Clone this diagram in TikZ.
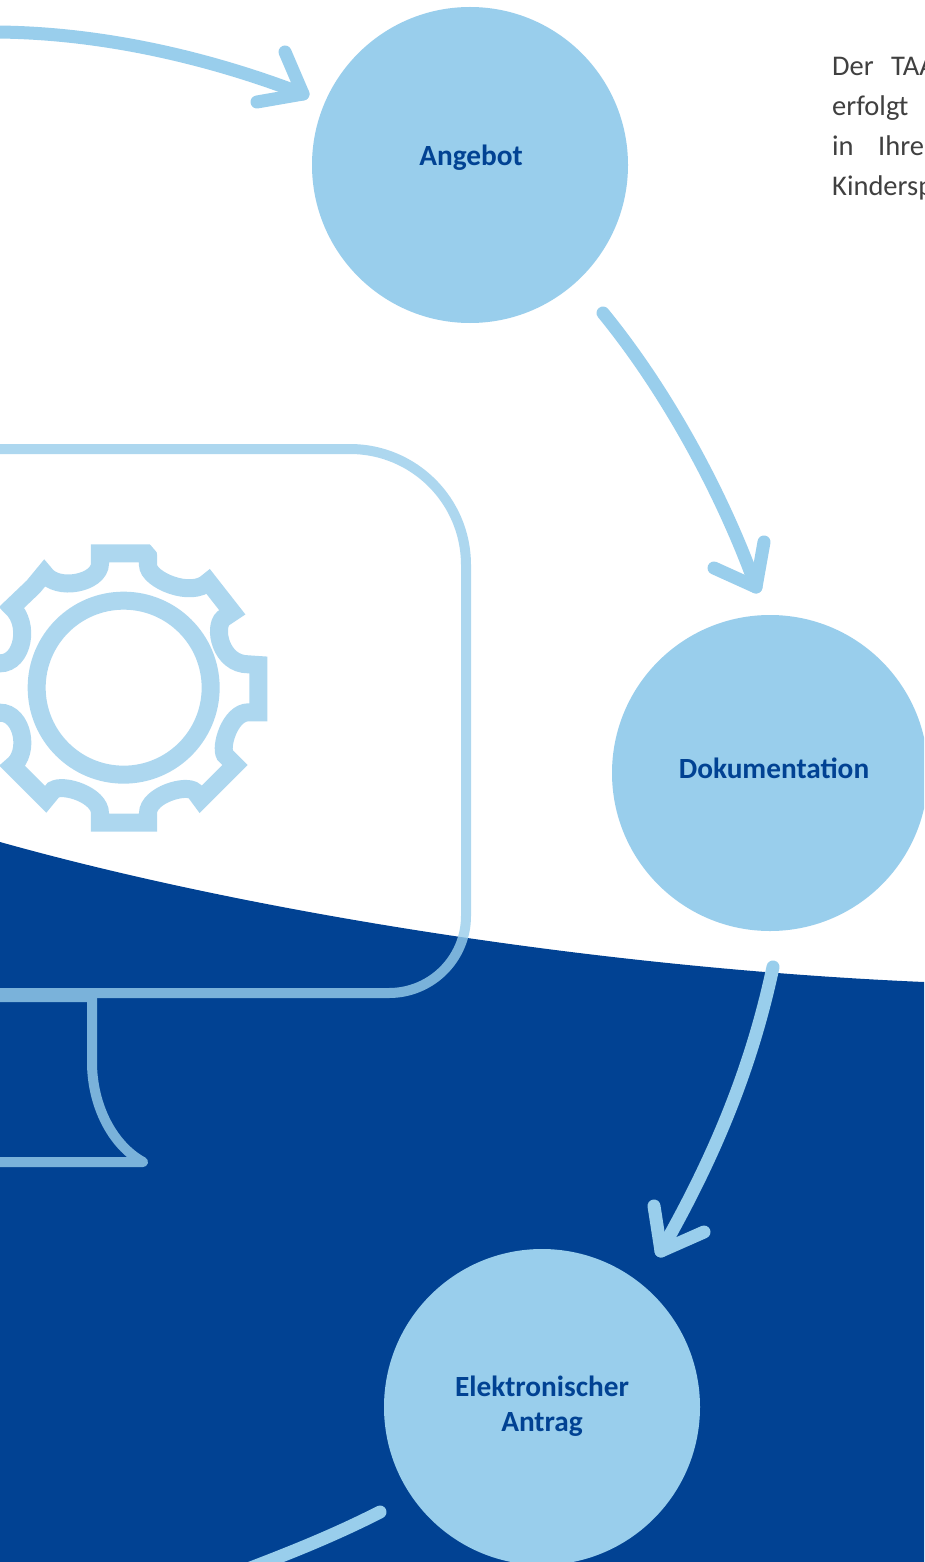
\documentclass[tikz,border=0pt]{standalone}
\usepackage{fontspec}
\setmainfont{Carlito}
\definecolor{navy}{HTML}{014293}
\definecolor{sky}{HTML}{99CEEC}
\definecolor{bodygrey}{HTML}{404040}
\tikzset{
  x=1pt,y=-1pt,
  stepcircle/.style={circle,fill=sky,minimum size=316pt,inner sep=0pt},
  steplabel/.style={text=navy,font=\fontsize{29.3}{35}\selectfont\bfseries,align=center,inner sep=0pt},
  flow/.style={draw=sky,line width=13pt,line cap=round,line join=round},
  screenline/.style={draw=sky,line width=10pt,line cap=round,line join=round},
  gearline/.style={draw=sky,draw opacity=.8,line width=18pt,miter limit=10},
  notetext/.style={anchor=base west,inner sep=0pt,text=bodygrey,font=\fontsize{28.5}{40}\selectfont},
}
\begin{document}
\begin{tikzpicture}
\useasboundingbox (0,0) rectangle (924,1562);
\clip (0,0) rectangle (924,1562);
\fill[white] (0,0) rectangle (924,1562);
% blue lower field
\fill[navy] (0,842) .. controls (250,912) and (600,968) .. (924,982) -- (924,1570) -- (0,1570) -- cycle;
% monitor
\begin{scope}[transparency group,opacity=.8]
\draw[screenline] (-20,449) -- (350,449) arc[start angle=-90,end angle=0,radius=116] -- (466,916) arc[start angle=0,end angle=90,radius=77] -- (-20,993);
\fill[sky] (-20,998) rectangle (87,1002);
\draw[screenline] (92,995) -- (92,1062) .. controls (92,1105) and (112,1145) .. (143,1162) -- (-20,1162);
\end{scope}
% gear
\begin{scope}[x=.33333pt,y=-.33333pt,shift={(0pt,-520pt)}]
\draw[gearline] (444,100) -- (444,135) .. controls (444,180) and (575,235) .. (625,185)
  -- (697,277) -- (670,295) .. controls (640,320) and (660,433) .. (745,433) -- (775,435) -- (775,577) -- (745,577)
  .. controls (690,577) and (660,680) .. (675,705) -- (705,735) -- (602,838) -- (585,815)
  .. controls (560,790) and (444,825) .. (444,880) -- (444,908) -- (300,908) -- (300,880)
  .. controls (300,825) and (190,790) .. (160,810) -- (137,838) -- (37,738)
  .. controls (90,700) and (70,578) .. (0,578) -- (-32,577) -- (-32,433) -- (0,430)
  .. controls (70,430) and (90,310) .. (35,262) -- (100,200) -- (133,160)
  .. controls (170,215) and (300,190) .. (300,130) -- (300,100) -- cycle;
\draw[gearline] (371,503) circle[radius=261];
\fill[white] (446,68) -- (476,68) -- (476,104) -- (472,104) -- (470,96) -- cycle;
\end{scope}
% steps
\node[stepcircle] (angebot) at (470,165) {};
\node[stepcircle] (doku) at (770,773) {};
\node[stepcircle] (antrag) at (542,1407) {};
\node[steplabel] (angebotlabel) at (471,158) {Angebot};
\node[steplabel] (dokulabel) at (774,768) {Dokumentation};
\node[steplabel] (antraglabel) at (542,1406) {Elektronischer\\Antrag};
% free ends
\coordinate (inA) at (-8,32);
\coordinate (tipA) at (303,94);
\coordinate (armA1) at (285,52);
\coordinate (armA2) at (257,102);
\coordinate (outA) at (603,313);
\coordinate (tipB) at (756,587);
\coordinate (armB1) at (764,542);
\coordinate (armB2) at (714,568);
\coordinate (outB) at (773,967);
\coordinate (tipC) at (661,1251);
\coordinate (armC1) at (654,1206);
\coordinate (armC2) at (704,1232);
\coordinate (outC) at (380,1512);
\coordinate (offD) at (240,1572);
% connectors
\draw[flow] (inA) .. controls (100,32) and (210,58) .. (tipA);
\draw[flow] (armA1) -- (tipA) -- (armA2);
\draw[flow] (outA) .. controls (670,395) and (725,500) .. (tipB);
\draw[flow] (armB1) -- (tipB) -- (armB2);
\draw[flow] (outB) .. controls (750,1075) and (710,1165) .. (tipC);
\draw[flow] (armC1) -- (tipC) -- (armC2);
\draw[flow] (outC) .. controls (335,1535) and (290,1553) .. (offD);
% text at right
\node[notetext] (n1) at (832,76) {Der};
\node[notetext] (n1b) at (891,76) {TAA};
\node[notetext] (n2) at (832,116) {erfolgt};
\node[notetext] (n3) at (832,156) {in};
\node[notetext] (n3b) at (878,156) {Ihre};
\node[notetext] (n4) at (832,196) {Kindersp};
\end{tikzpicture}
\end{document}
